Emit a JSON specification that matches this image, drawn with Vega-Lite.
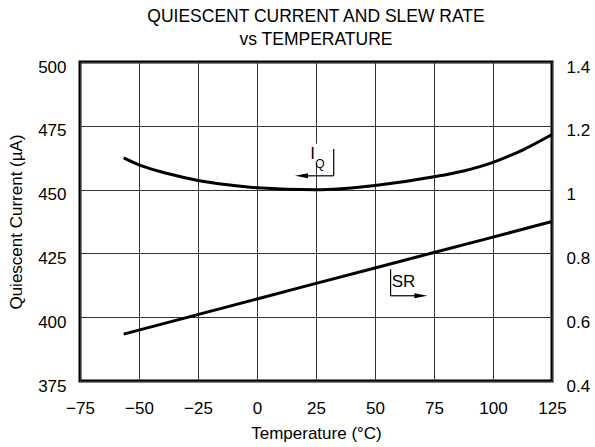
{
  "$schema": "https://vega.github.io/schema/vega-lite/v6.json",
  "width": 472,
  "height": 319,
  "autosize": {"type": "none"},
  "padding": {"left": 80, "top": 62, "right": 43, "bottom": 66},
  "title": {
    "text": ["QUIESCENT CURRENT AND SLEW RATE", "vs TEMPERATURE"],
    "font": "Liberation Sans",
    "fontSize": 17.5,
    "fontWeight": "normal",
    "color": "black",
    "lineHeight": 23.4,
    "anchor": "middle",
    "offset": 9
  },
  "config": {
    "view": {"stroke": "black", "strokeWidth": 3},
    "font": "Liberation Sans",
    "axis": {
      "domain": false,
      "ticks": false,
      "labelFont": "Liberation Sans",
      "labelFontSize": 17,
      "labelColor": "black",
      "titleFont": "Liberation Sans",
      "titleFontSize": 17,
      "titleFontWeight": "normal",
      "titleColor": "black",
      "gridColor": "#333333",
      "gridWidth": 1,
      "gridOpacity": 1
    }
  },
  "datasets": {
    "iq": [
      {"t": -56.5, "iq": 462.4},
      {"t": -50, "iq": 459.7},
      {"t": -37.5, "iq": 456.2},
      {"t": -25, "iq": 453.6},
      {"t": -12.5, "iq": 451.9},
      {"t": 0, "iq": 450.7},
      {"t": 25, "iq": 449.9},
      {"t": 50, "iq": 451.6},
      {"t": 75, "iq": 455.0},
      {"t": 87.5, "iq": 457.3},
      {"t": 100, "iq": 460.7},
      {"t": 112.5, "iq": 465.5},
      {"t": 125, "iq": 471.6}
    ],
    "sr": [
      {"t": -56.5, "sr": 0.547},
      {"t": 0, "sr": 0.657},
      {"t": 25, "sr": 0.706},
      {"t": 50, "sr": 0.754},
      {"t": 75, "sr": 0.803},
      {"t": 100, "sr": 0.851},
      {"t": 125, "sr": 0.9}
    ],
    "brackets": [
      {"x": 32.5, "y": 465.9, "x2": 32.5, "y2": 455.4},
      {"x": 32.5, "y": 455.4, "x2": 19.5, "y2": 455.4},
      {"x": 56.6, "y": 418.8, "x2": 56.6, "y2": 408.4},
      {"x": 56.6, "y": 408.4, "x2": 69.0, "y2": 408.4}
    ],
    "arrows": [
      {"x": 18.85, "y": 455.4, "dir": "left"},
      {"x": 69.45, "y": 408.4, "dir": "right"}
    ],
    "mask": [
      {"x": 22, "x2": 25.6, "y": 460.5, "y2": 468}
    ],
    "labels": [
      {"x": 23.6, "y": 464.0, "text": "I"},
      {"x": 62.1, "y": 413.6, "text": "SR"}
    ],
    "subs": [
      {"x": 26.7, "y": 460.0, "text": "Q"}
    ]
  },
  "layer": [
    {
      "layer": [
        {
          "data": {"name": "mask"},
          "mark": {"type": "rect", "fill": "white", "stroke": null},
          "encoding": {
            "x": {"field": "x", "type": "quantitative", "scale": {"domain": [-75, 125], "nice": false, "zero": false}},
            "x2": {"field": "x2"},
            "y": {"field": "y", "type": "quantitative", "scale": {"domain": [375, 500], "nice": false, "zero": false}},
            "y2": {"field": "y2"}
          }
        },
        {
          "data": {"name": "iq"},
          "mark": {"type": "line", "color": "black", "strokeWidth": 3, "interpolate": "monotone", "strokeCap": "butt"},
          "encoding": {
            "x": {
              "field": "t",
              "type": "quantitative",
              "scale": {"domain": [-75, 125], "nice": false, "zero": false},
              "axis": {
                "values": [-75, -50, -25, 0, 25, 50, 75, 100, 125],
                "title": "Temperature (°C)",
                "grid": true,
                "labelPadding": 19,
                "titlePadding": 9,
                "labelFlush": false,
                "labelOverlap": false
              }
            },
            "y": {
              "field": "iq",
              "type": "quantitative",
              "scale": {"domain": [375, 500], "nice": false, "zero": false},
              "axis": {
                "values": [375, 400, 425, 450, 475, 500],
                "title": "Quiescent Current (µA)",
                "grid": true,
                "labelPadding": 14,
                "labelOffset": 5,
                "titlePadding": 12,
                "labelOverlap": false
              }
            }
          }
        },
        {
          "data": {"name": "brackets"},
          "mark": {"type": "rule", "color": "black", "strokeWidth": 1.2},
          "encoding": {
            "x": {"field": "x", "type": "quantitative"},
            "x2": {"field": "x2"},
            "y": {"field": "y", "type": "quantitative"},
            "y2": {"field": "y2"}
          }
        },
        {
          "data": {"name": "arrows"},
          "mark": {"type": "point", "filled": true, "color": "black", "opacity": 1, "size": 169, "strokeWidth": 0},
          "encoding": {
            "x": {"field": "x", "type": "quantitative"},
            "y": {"field": "y", "type": "quantitative"},
            "shape": {
              "field": "dir",
              "type": "nominal",
              "scale": {"domain": ["left", "right"], "range": ["M-1,0L1,-0.38L1,0.38Z", "M1,0L-1,-0.38L-1,0.38Z"]},
              "legend": null
            }
          }
        },
        {
          "data": {"name": "labels"},
          "mark": {"type": "text", "font": "Liberation Sans", "fontSize": 17, "color": "black", "align": "center", "baseline": "middle"},
          "encoding": {
            "x": {"field": "x", "type": "quantitative"},
            "y": {"field": "y", "type": "quantitative"},
            "text": {"field": "text"}
          }
        },
        {
          "data": {"name": "subs"},
          "mark": {"type": "text", "font": "Liberation Sans", "fontSize": 12, "color": "black", "align": "center", "baseline": "middle"},
          "encoding": {
            "x": {"field": "x", "type": "quantitative"},
            "y": {"field": "y", "type": "quantitative"},
            "text": {"field": "text"}
          }
        }
      ]
    },
    {
      "data": {"name": "sr"},
      "mark": {"type": "line", "color": "black", "strokeWidth": 3, "strokeCap": "butt"},
      "encoding": {
        "x": {"field": "t", "type": "quantitative"},
        "y": {
          "field": "sr",
          "type": "quantitative",
          "scale": {"domain": [0.4, 1.4], "nice": false, "zero": false},
          "axis": {
            "orient": "right",
            "values": [0.4, 0.6, 0.8, 1, 1.2, 1.4],
            "format": ".1~f",
            "title": null,
            "grid": false,
            "labelPadding": 14,
            "labelOffset": 5,
            "labelOverlap": false
          }
        }
      }
    }
  ],
  "resolve": {"scale": {"y": "independent"}}
}
